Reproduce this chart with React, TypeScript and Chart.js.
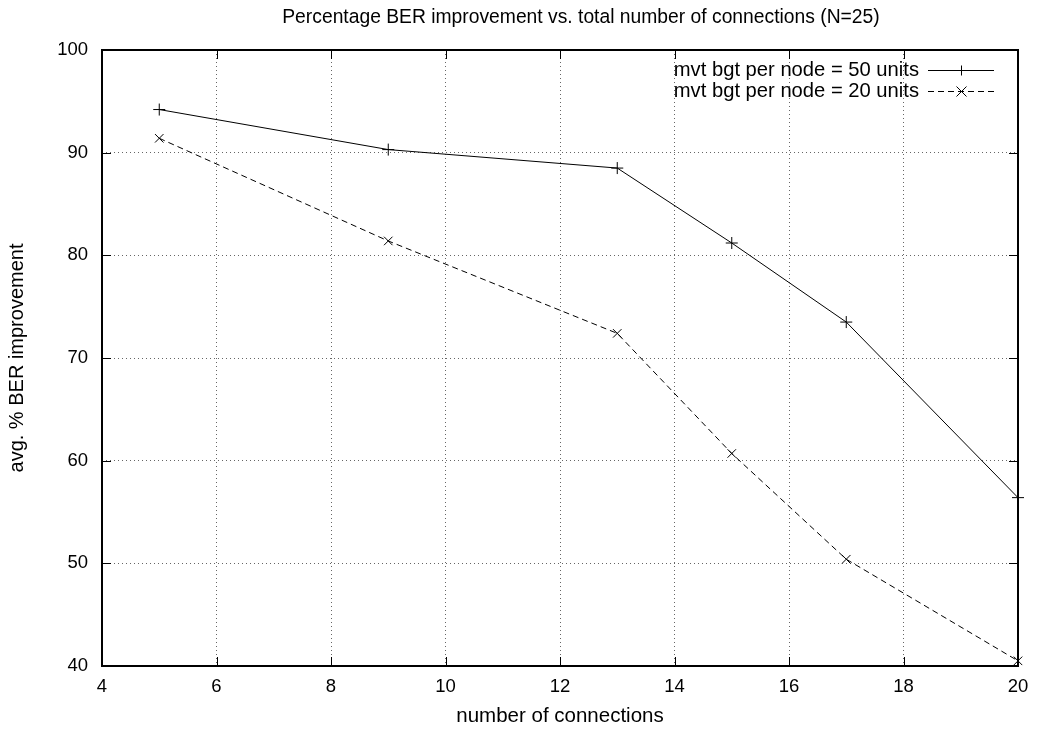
import React, { useEffect, useRef } from "react";
import { Chart, registerables } from "chart.js";

Chart.register(...registerables);

const connections = [5, 9, 13, 15, 17, 20];
const budget50 = [94.2, 90.3, 88.5, 81.2, 73.5, 56.4];
const budget20 = [91.4, 81.4, 72.4, 60.7, 50.4, 40.5];
const xTicks = [4, 6, 8, 10, 12, 14, 16, 18, 20];
const yTicks = [40, 50, 60, 70, 80, 90, 100];
const seriesLabels = ["mvt bgt per node = 50 units", "mvt bgt per node = 20 units"];
const chartTitle = "Percentage BER improvement vs. total number of connections (N=25)";
const xTitle = "number of connections";
const yTitle = "avg. % BER improvement";

const FONT = "'Liberation Sans', Arial, Helvetica, sans-serif";

const gnuplotPlugin = {
  id: "gnuplotDecor",
  afterDatasetsDraw(chart: any) {
    const { ctx, chartArea } = chart;
    const { left, right, top, bottom } = chartArea;
    const xs = chart.scales.x;
    const ys = chart.scales.y;
    ctx.save();
    ctx.strokeStyle = "#000";
    ctx.lineWidth = 1;
    ctx.setLineDash([]);
    const tl = 9;
    ctx.beginPath();
    xTicks.forEach((v) => {
      const px = Math.round(xs.getPixelForValue(v)) + 0.5;
      ctx.moveTo(px, bottom);
      ctx.lineTo(px, bottom - tl);
      ctx.moveTo(px, top);
      ctx.lineTo(px, top + tl);
    });
    yTicks.forEach((v) => {
      const py = Math.round(ys.getPixelForValue(v)) + 0.5;
      ctx.moveTo(left, py);
      ctx.lineTo(left + tl, py);
      ctx.moveTo(right, py);
      ctx.lineTo(right - tl, py);
    });
    ctx.stroke();
    ctx.lineWidth = 2;
    ctx.strokeRect(left, top, right - left, bottom - top);

    // title
    ctx.fillStyle = "#000";
    ctx.font = `19.3px ${FONT}`;
    ctx.textAlign = "center";
    ctx.textBaseline = "middle";
    ctx.fillText(chartTitle, 581, 18);

    // legend
    const rows = [
      { y: 70, dash: [] as number[], style: "cross" },
      { y: 91, dash: [6, 4], style: "crossRot" },
    ];
    ctx.font = `20.2px ${FONT}`;
    ctx.textAlign = "right";
    rows.forEach((r, i) => {
      ctx.fillStyle = "#000";
      ctx.fillText(seriesLabels[i], 919, r.y);
      ctx.lineWidth = 1;
      ctx.setLineDash(r.dash);
      ctx.beginPath();
      ctx.moveTo(928, r.y + 0.5);
      ctx.lineTo(994, r.y + 0.5);
      ctx.stroke();
      ctx.setLineDash([]);
      ctx.beginPath();
      const cx = 961.5;
      const cy = r.y + 0.5;
      const s = 5;
      if (r.style === "cross") {
        ctx.moveTo(cx - s, cy);
        ctx.lineTo(cx + s, cy);
        ctx.moveTo(cx, cy - s);
        ctx.lineTo(cx, cy + s);
      } else {
        ctx.moveTo(cx - s, cy - s);
        ctx.lineTo(cx + s, cy + s);
        ctx.moveTo(cx - s, cy + s);
        ctx.lineTo(cx + s, cy - s);
      }
      ctx.stroke();
    });
    ctx.restore();
  },
};

export default function App() {
  const canvasRef = useRef<HTMLCanvasElement | null>(null);

  useEffect(() => {
    document.body.style.margin = "0";
    const canvas = canvasRef.current;
    if (!canvas) return;
    const chart = new Chart(canvas, {
      type: "line",
      data: {
        datasets: [
          {
            label: seriesLabels[0],
            data: connections.map((c, i) => ({ x: c, y: budget50[i] })),
            borderColor: "#000",
            backgroundColor: "#000",
            borderWidth: 1,
            pointStyle: "cross",
            pointRadius: 6,
            pointBorderWidth: 1,
            pointBorderColor: "#000",
            tension: 0,
            clip: false as any,
          },
          {
            label: seriesLabels[1],
            data: connections.map((c, i) => ({ x: c, y: budget20[i] })),
            borderColor: "#000",
            backgroundColor: "#000",
            borderWidth: 1,
            borderDash: [6, 4],
            pointStyle: "crossRot",
            pointRadius: 6,
            pointBorderWidth: 1,
            pointBorderColor: "#000",
            tension: 0,
            clip: false as any,
          },
        ],
      },
      options: {
        animation: false,
        responsive: false,
        layout: { padding: { top: 50, right: 24, left: 0, bottom: 0 } },
        plugins: {
          legend: { display: false },
          title: { display: false },
          tooltip: { enabled: false },
        },
        scales: {
          x: {
            type: "linear",
            min: 4,
            max: 20,
            afterBuildTicks: (scale: any) => {
              scale.ticks = xTicks.map((v) => ({ value: v }));
            },
            afterFit: (scale: any) => {
              scale.height = 65;
            },
            grid: { color: "#666", drawTicks: false, lineWidth: 1 },
            border: { display: false, dash: [1, 3] },
            ticks: {
              color: "#000",
              padding: 10,
              font: { family: FONT, size: 18.5 },
              maxRotation: 0,
              autoSkip: false,
            },
            title: {
              display: true,
              text: xTitle,
              color: "#000",
              font: { family: FONT, size: 20.5 },
              padding: { top: 2, bottom: 2 },
            },
          },
          y: {
            type: "linear",
            min: 40,
            max: 100,
            afterBuildTicks: (scale: any) => {
              scale.ticks = yTicks.map((v) => ({ value: v }));
            },
            afterFit: (scale: any) => {
              scale.width = 102;
            },
            grid: { color: "#666", drawTicks: false, lineWidth: 1 },
            border: { display: false, dash: [1, 3] },
            ticks: {
              color: "#000",
              padding: 14,
              font: { family: FONT, size: 18.5 },
              autoSkip: false,
            },
            title: {
              display: true,
              text: yTitle,
              color: "#000",
              font: { family: FONT, size: 20 },
              padding: { top: 5, bottom: 4 },
            },
          },
        },
      },
      plugins: [gnuplotPlugin],
    });
    return () => chart.destroy();
  }, []);

  return (
    <div style={{ position: "fixed", left: 0, top: 0, width: 1042, height: 731, background: "#fff" }}>
      <canvas ref={canvasRef} width={1042} height={731} style={{ width: 1042, height: 731, display: "block" }} />
    </div>
  );
}
